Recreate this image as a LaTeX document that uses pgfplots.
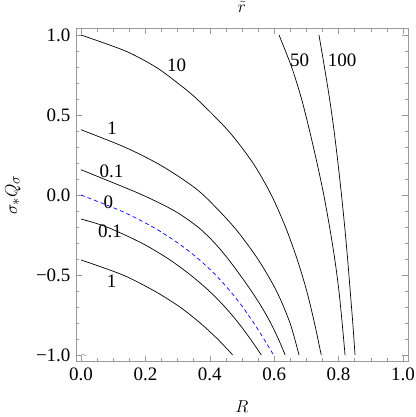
\documentclass[border=0pt]{standalone}
\usepackage{fontspec}
\setmainfont{Liberation Serif}
\usepackage{pgfplots}
\pgfplotsset{compat=1.18}

\begin{document}
\fontsize{19}{22}\selectfont
\begin{tikzpicture}
\begin{axis}[
  name=main,
  at={(0,0)}, anchor=south west,
  scale only axis,
  width=332pt, height=333.4pt,
  xmin=-0.0155, xmax=1.0155,
  ymin=-1.042, ymax=1.042,
  xtick={0,0.2,0.4,0.6,0.8,1.0},
  xticklabels={0.0,0.2,0.4,0.6,0.8,1.0},
  ytick={-1,-0.5,0,0.5,1},
  yticklabels={−1.0,−0.5,0.0,0.5,1.0},
  minor x tick num=3,
  minor y tick num=4,
  major tick length=6pt,
  minor tick length=3.5pt,
  tick align=inside,
  axis line style={gray!80, line width=0.6pt},
  every tick/.style={gray!80, line width=0.5pt},
  tick label style={font=\fontsize{19}{22}\selectfont},
  yticklabel style={xshift=1pt},
  title={$\tilde{r}$},
  title style={at={(0.5,1)}, anchor=center, yshift=15pt, font=\fontsize{19}{22}\selectfont},
  xlabel={$R$},
  xlabel style={at={(axis description cs:0.5,0)}, anchor=center, yshift=-45pt, font=\fontsize{19}{22}\selectfont},
  ylabel={$\sigma_{*}Q_{\sigma}$},
  ylabel style={at={(axis description cs:-0.19,0.5)}, anchor=center, font=\fontsize{19}{22}\selectfont},
  every axis plot/.append style={line width=0.7pt},
]
% r = 10
\addplot[black, smooth] coordinates {
  (0,1.0) (0.138,0.9) (0.232,0.8) (0.300,0.7) (0.360,0.6) (0.458,0.4)
  (0.534,0.2) (0.591,0.0) (0.635,-0.2) (0.671,-0.4) (0.701,-0.6)
  (0.725,-0.8) (0.746,-1.0)};
% r = 1 (upper)
\addplot[black, smooth] coordinates {
  (0,0.408) (0.135,0.3) (0.235,0.2) (0.315,0.1) (0.380,0.0) (0.475,-0.2)
  (0.549,-0.4) (0.607,-0.6) (0.649,-0.8) (0.677,-1.0)};
% r = 0.1 (upper)
\addplot[black, smooth] coordinates {
  (0,0.158) (0.071,0.1) (0.191,0.0) (0.291,-0.1) (0.363,-0.2) (0.415,-0.3)
  (0.457,-0.4) (0.494,-0.5) (0.529,-0.6) (0.561,-0.7) (0.589,-0.8)
  (0.613,-0.9) (0.634,-1.0)};
% r = 0
\addplot[blue, dash pattern=on 4pt off 3pt, smooth] coordinates {
  (0,0) (0.125,-0.1) (0.223,-0.2) (0.301,-0.3) (0.365,-0.4) (0.418,-0.5)
  (0.463,-0.6) (0.502,-0.7) (0.5365,-0.8) (0.568,-0.9) (0.598,-1.0)};
% r = 0.1 (lower)
\addplot[black, smooth] coordinates {
  (0,-0.15) (0.08,-0.2) (0.188,-0.3) (0.272,-0.4) (0.340,-0.5)
  (0.398,-0.6) (0.447,-0.7) (0.489,-0.8) (0.526,-0.9) (0.560,-1.0)};
% r = 1 (lower)
\addplot[black, smooth] coordinates {
  (0,-0.406) (0.13,-0.5) (0.228,-0.6) (0.307,-0.7) (0.370,-0.8)
  (0.424,-0.9) (0.471,-1.0)};
% r = 50
\addplot[black, smooth] coordinates {
  (0.615,1.0) (0.654,0.8) (0.685,0.6) (0.710,0.4) (0.733,0.2) (0.754,0.0)
  (0.772,-0.2) (0.788,-0.4) (0.801,-0.6) (0.811,-0.8) (0.820,-1.0)};
% r = 100
\addplot[black, smooth] coordinates {
  (0.739,1.0) (0.756,0.8) (0.772,0.6) (0.786,0.4) (0.798,0.2) (0.809,0.0)
  (0.819,-0.2) (0.828,-0.4) (0.836,-0.6) (0.844,-0.8) (0.851,-1.0)};
% tiny piece in the corner
\addplot[gray, line width=0.5pt] coordinates {(0.002,-0.994) (0.0155,-1.004)};

\node at (axis cs:0.297,0.8125) {10};
\node at (axis cs:0.679,0.839) {50};
\node at (axis cs:0.811,0.839) {100};
\node at (axis cs:0.097,0.42) {1};
\node at (axis cs:0.095,0.146) {0.1};
\node at (axis cs:0.085,-0.048) {0};
\node at (axis cs:0.09,-0.229) {0.1};
\node at (axis cs:0.095,-0.542) {1};
\end{axis}
\pgfresetboundingbox
\path (main.south west) ++(-76pt,-55.3pt) rectangle ++(415pt,417pt);
\end{tikzpicture}
\end{document}
